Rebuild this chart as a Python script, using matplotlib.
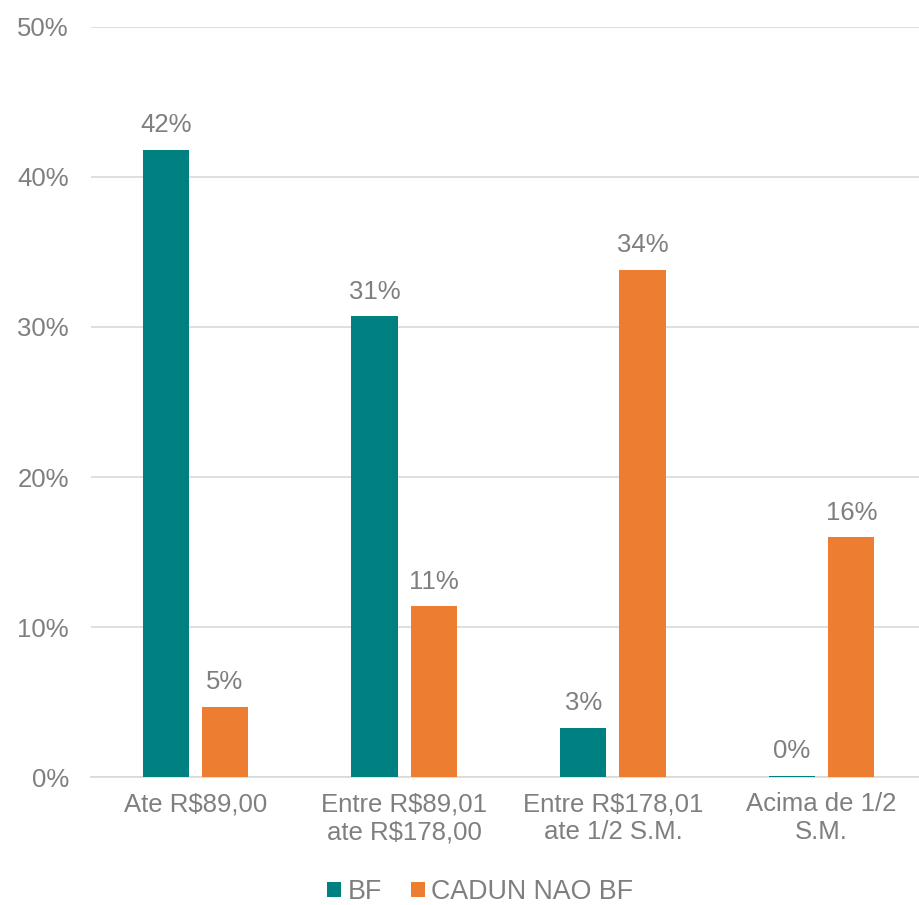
import matplotlib
matplotlib.use("Agg")
import matplotlib.pyplot as plt
import numpy as np

plt.rcParams['font.family'] = ['Liberation Sans', 'DejaVu Sans']

categories = ["Ate R\\$89,00", "Entre R\\$89,01\nate R\\$178,00",
              "Entre R\\$178,01\nate 1/2 S.M.", "Acima de 1/2\nS.M."]
series_names = ["BF", "CADUN NAO BF"]
bf_values = [41.8, 30.7, 3.3, 0.08]
cadun_values = [4.7, 11.4, 33.8, 16.0]
y_ticks = [0, 10, 20, 30, 40, 50]

teal = "#008080"
orange = "#ED7D31"
grey_text = "#7F7F7F"
grid_col = "#D9D9D9"

fig = plt.figure(figsize=(9.2, 9.05), dpi=100)
ax = fig.add_axes([91 / 920, 0.1414, 835 / 920, 0.8288])

x = np.arange(len(categories))
w = 0.222
off = 0.142
b1 = ax.bar(x - off, bf_values, w, color=teal, label=series_names[0], zorder=3)
b2 = ax.bar(x + off, cadun_values, w, color=orange, label=series_names[1], zorder=3)

fmt = lambda v: f"{v:.0f}%"
ax.bar_label(b1, labels=[fmt(v) for v in bf_values], padding=9, fontsize=18.5, color=grey_text)
ax.bar_label(b2, labels=[fmt(v) for v in cadun_values], padding=9, fontsize=18.5, color=grey_text)

ax.set_xlim(-0.5, len(categories) - 0.5)
ax.set_ylim(0, 50)
ax.set_yticks(y_ticks)
ax.set_yticklabels([f"{t}%" for t in y_ticks])
ax.set_xticks(x)
ax.set_xticklabels(categories)
ax.tick_params(axis='y', length=0, pad=16, labelsize=18.5, labelcolor=grey_text)
ax.tick_params(axis='x', length=0, pad=11, labelsize=18.5, labelcolor=grey_text)
ax.yaxis.grid(True, color=grid_col, linewidth=1.2, zorder=0)
for s in ["top", "right", "left"]:
    ax.spines[s].set_visible(False)
ax.spines["bottom"].set_color(grid_col)
ax.spines["bottom"].set_linewidth(1.2)

leg = fig.legend(loc="center", bbox_to_anchor=(0.522, 0.014), ncol=2, frameon=False,
                 fontsize=19.3, handlelength=0.5, handleheight=0.5, handletextpad=0.25,
                 columnspacing=1.1)
for t in leg.get_texts():
    t.set_color(grey_text)

fig.savefig("out.png", dpi=100)
